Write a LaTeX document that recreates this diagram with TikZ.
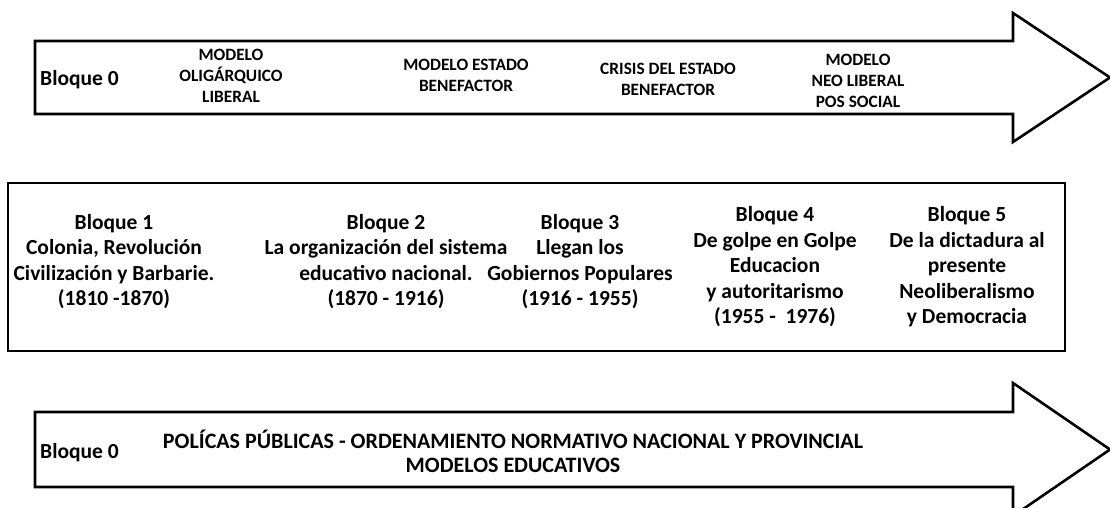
\documentclass[tikz,border=0pt]{standalone}
\usepackage{fontspec}
\setmainfont{Carlito}
\begin{document}
\begin{tikzpicture}[x=1pt,y=-1pt,
  frame/.style={draw=black, line width=2.6pt, line join=miter},
  lbl/.style={font=\bfseries\fontsize{17.3}{21}\selectfont, align=center, inner sep=0pt},
  blk/.style={font=\bfseries\fontsize{21.5}{25.5}\selectfont, align=center, inner sep=0pt},
  bq/.style={font=\bfseries\fontsize{21.5}{24}\selectfont, anchor=west, inner sep=0pt},
  pol/.style={font=\bfseries\fontsize{22}{24}\selectfont, align=center, inner sep=0pt}]
\useasboundingbox (0,0) rectangle (1110,508);
\fill[white] (0,0) rectangle (1110,508);
% top arrow
\draw[frame] (35,41) -- (1013,41) -- (1013,13) -- (1110,77.5) -- (1013,142) -- (1013,114) -- (35,114) -- cycle;
% middle box
\draw[frame] (8,183) rectangle (1065,351);
% bottom arrow
\draw[frame] (35,412) -- (1013,412) -- (1013,383) -- (1110,449.5) -- (1013,516) -- (1013,487) -- (35,487) -- cycle;

\node[bq] (b0a) at (40,80) {Bloque 0};
\node[lbl] (m1) at (231,76) {MODELO\\OLIGÁRQUICO\\LIBERAL};
\node[lbl] (m2) at (466,75) {MODELO ESTADO\\BENEFACTOR};
\node[lbl] (m3) at (668,79) {CRISIS DEL ESTADO\\BENEFACTOR};
\node[lbl] (m4) at (858,81) {MODELO\\NEO LIBERAL\\POS SOCIAL};

\node[blk] (b1) at (114,261.5) {Bloque 1\\Colonia, Revolución\\Civilización y Barbarie.\\(1810 -1870)};
\node[blk] (b2) at (386,261.5) {Bloque 2\\La organización del sistema\\educativo nacional.\\(1870 - 1916)};
\node[blk] (b3) at (580,261.5) {Bloque 3\\Llegan los\\Gobiernos Populares\\(1916 - 1955)};
\node[blk] (b4) at (775,267) {Bloque 4\\De golpe en Golpe\\Educacion\\y autoritarismo\\(1955 -\ \ 1976)};
\node[blk] (b5) at (967,267) {Bloque 5\\De la dictadura al\\presente\\Neoliberalismo\\y Democracia};

\node[bq] (b0b) at (40,453) {Bloque 0};
\node[pol] (pp) at (513,451.5) {POLÍCAS PÚBLICAS - ORDENAMIENTO NORMATIVO NACIONAL Y PROVINCIAL\\MODELOS EDUCATIVOS};
\end{tikzpicture}
\end{document}
